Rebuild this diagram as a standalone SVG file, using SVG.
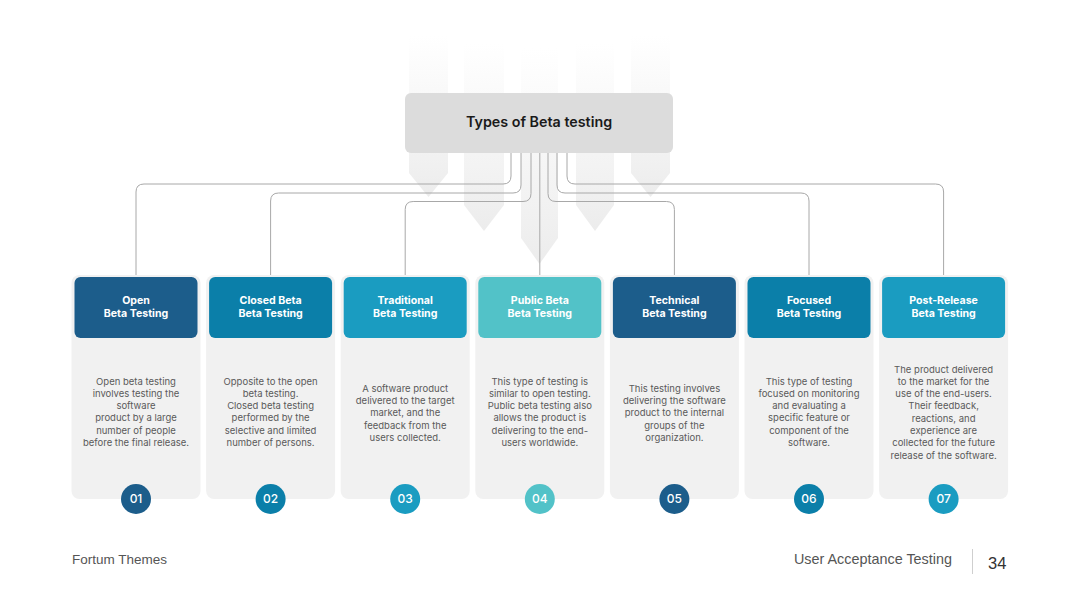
<svg xmlns="http://www.w3.org/2000/svg" width="1080" height="608" viewBox="0 0 1080 608">
<defs>
<linearGradient id="ag" x1="0" y1="0" x2="0" y2="1">
<stop offset="0" stop-color="#efefef" stop-opacity="0"/>
<stop offset="0.55" stop-color="#eeeeee" stop-opacity="0.6"/>
<stop offset="1" stop-color="#ebebeb" stop-opacity="0.95"/>
</linearGradient>
<style>
.conn{fill:none;stroke:#a8a8a8;stroke-width:1}
.body{fill:#f1f1f1}
.ht{font-family:Inter,"Noto Sans",sans-serif;font-weight:700;font-size:10.6px;fill:#ffffff;text-anchor:middle}
.bt{font-family:Inter,"Noto Sans",sans-serif;font-size:9.5px;fill:#5a5a5a;text-anchor:middle}
.num{font-family:Inter,"Noto Sans",sans-serif;font-weight:500;font-size:12px;fill:#ffffff;text-anchor:middle}
.c1{fill:#1c5d8b}.c2{fill:#0b7fa9}.c3{fill:#1a9cc1}.c4{fill:#52c2c8}
.foot{font-family:"Liberation Sans",Arial,sans-serif;font-size:13.5px;fill:#555555}
.footr{font-family:"Liberation Sans",Arial,sans-serif;font-size:14.4px;fill:#555555;text-anchor:end}
</style>
</defs>
<rect width="1080" height="608" fill="#ffffff"/>
<g id="bg-arrows" fill="url(#ag)">
<polygon points="409,36 448,36 448,173 428.5,197 409,173"/>
<polygon points="464,44 504,44 504,205 484,231 464,205"/>
<polygon points="521,48 558,48 558,238 539.5,264 521,238"/>
<polygon points="576,44 614,44 614,205 595,231 576,205"/>
<polygon points="631,36 670,36 670,173 650.5,197 631,173"/>
</g>
<g id="connectors">
<path class="conn" d="M511,153 V176 Q511,184 503,184 H144 Q136,184 136,192 V277"/>
<path class="conn" d="M521,153 V185 Q521,193 513,193 H278.6 Q270.6,193 270.6,201 V277"/>
<path class="conn" d="M531,153 V193.5 Q531,201.5 523,201.5 H413.2 Q405.2,201.5 405.2,209.5 V277"/>
<path class="conn" d="M539.8,153 V277"/>
<path class="conn" d="M548,153 V193.5 Q548,201.5 556,201.5 H666.4 Q674.4,201.5 674.4,209.5 V277"/>
<path class="conn" d="M557,153 V185 Q557,193 565,193 H801 Q809,193 809,201 V277"/>
<path class="conn" d="M567,153 V176 Q567,184 575,184 H935.6 Q943.6,184 943.6,192 V277"/>
</g>
<g id="root">
<rect x="405" y="93" width="268" height="60" rx="6" fill="#dcdcdc"/>
<text x="539" y="127" font-family="Inter,'Noto Sans',sans-serif" font-weight="600" font-size="14.3px" fill="#1a1a1a" text-anchor="middle">Types of Beta testing</text>
</g>
<g id="card1">
<rect class="body" x="71.5" y="275" width="129" height="224" rx="8"/>
<rect class="c1" x="74.5" y="277" width="123" height="61" rx="6"/>
<text class="ht" x="136" y="303.5">Open</text>
<text class="ht" x="136" y="317">Beta Testing</text>
<text class="bt" x="136" y="384.5">Open beta testing</text>
<text class="bt" x="136" y="396.8">involves testing the</text>
<text class="bt" x="136" y="409.1">software</text>
<text class="bt" x="136" y="421.4">product by a large</text>
<text class="bt" x="136" y="433.7">number of people</text>
<text class="bt" x="136" y="446">before the final release.</text>
<circle class="c1" cx="136" cy="499" r="15"/>
<text class="num" x="136" y="503.2">01</text>
</g>
<g id="card2">
<rect class="body" x="206.1" y="275" width="129" height="224" rx="8"/>
<rect class="c2" x="209.1" y="277" width="123" height="61" rx="6"/>
<text class="ht" x="270.6" y="303.5">Closed Beta</text>
<text class="ht" x="270.6" y="317">Beta Testing</text>
<text class="bt" x="270.6" y="384.5">Opposite to the open</text>
<text class="bt" x="270.6" y="396.8">beta testing.</text>
<text class="bt" x="270.6" y="409.1">Closed beta testing</text>
<text class="bt" x="270.6" y="421.4">performed by the</text>
<text class="bt" x="270.6" y="433.7">selective and limited</text>
<text class="bt" x="270.6" y="446">number of persons.</text>
<circle class="c2" cx="270.6" cy="499" r="15"/>
<text class="num" x="270.6" y="503.2">02</text>
</g>
<g id="card3">
<rect class="body" x="340.7" y="275" width="129" height="224" rx="8"/>
<rect class="c3" x="343.7" y="277" width="123" height="61" rx="6"/>
<text class="ht" x="405.2" y="303.5">Traditional</text>
<text class="ht" x="405.2" y="317">Beta Testing</text>
<text class="bt" x="405.2" y="391.8">A software product</text>
<text class="bt" x="405.2" y="404.1">delivered to the target</text>
<text class="bt" x="405.2" y="416.4">market, and the</text>
<text class="bt" x="405.2" y="428.7">feedback from the</text>
<text class="bt" x="405.2" y="441">users collected.</text>
<circle class="c3" cx="405.2" cy="499" r="15"/>
<text class="num" x="405.2" y="503.2">03</text>
</g>
<g id="card4">
<rect class="body" x="475.3" y="275" width="129" height="224" rx="8"/>
<rect class="c4" x="478.3" y="277" width="123" height="61" rx="6"/>
<text class="ht" x="539.8" y="303.5">Public Beta</text>
<text class="ht" x="539.8" y="317">Beta Testing</text>
<text class="bt" x="539.8" y="384.5">This type of testing is</text>
<text class="bt" x="539.8" y="396.8">similar to open testing.</text>
<text class="bt" x="539.8" y="409.1">Public beta testing also</text>
<text class="bt" x="539.8" y="421.4">allows the product is</text>
<text class="bt" x="539.8" y="433.7">delivering to the end-</text>
<text class="bt" x="539.8" y="446">users worldwide.</text>
<circle class="c4" cx="539.8" cy="499" r="15"/>
<text class="num" x="539.8" y="503.2">04</text>
</g>
<g id="card5">
<rect class="body" x="609.9" y="275" width="129" height="224" rx="8"/>
<rect class="c1" x="612.9" y="277" width="123" height="61" rx="6"/>
<text class="ht" x="674.4" y="303.5">Technical</text>
<text class="ht" x="674.4" y="317">Beta Testing</text>
<text class="bt" x="674.4" y="391.8">This testing involves</text>
<text class="bt" x="674.4" y="404.1">delivering the software</text>
<text class="bt" x="674.4" y="416.4">product to the internal</text>
<text class="bt" x="674.4" y="428.7">groups of the</text>
<text class="bt" x="674.4" y="441">organization.</text>
<circle class="c1" cx="674.4" cy="499" r="15"/>
<text class="num" x="674.4" y="503.2">05</text>
</g>
<g id="card6">
<rect class="body" x="744.5" y="275" width="129" height="224" rx="8"/>
<rect class="c2" x="747.5" y="277" width="123" height="61" rx="6"/>
<text class="ht" x="809" y="303.5">Focused</text>
<text class="ht" x="809" y="317">Beta Testing</text>
<text class="bt" x="809" y="384.5">This type of testing</text>
<text class="bt" x="809" y="396.8">focused on monitoring</text>
<text class="bt" x="809" y="409.1">and evaluating a</text>
<text class="bt" x="809" y="421.4">specific feature or</text>
<text class="bt" x="809" y="433.7">component of the</text>
<text class="bt" x="809" y="446">software.</text>
<circle class="c2" cx="809" cy="499" r="15"/>
<text class="num" x="809" y="503.2">06</text>
</g>
<g id="card7">
<rect class="body" x="879.1" y="275" width="129" height="224" rx="8"/>
<rect class="c3" x="882.1" y="277" width="123" height="61" rx="6"/>
<text class="ht" x="943.6" y="303.5">Post-Release</text>
<text class="ht" x="943.6" y="317">Beta Testing</text>
<text class="bt" x="943.6" y="372.5">The product delivered</text>
<text class="bt" x="943.6" y="384.8">to the market for the</text>
<text class="bt" x="943.6" y="397.1">use of the end-users.</text>
<text class="bt" x="943.6" y="409.4">Their feedback,</text>
<text class="bt" x="943.6" y="421.7">reactions, and</text>
<text class="bt" x="943.6" y="434">experience are</text>
<text class="bt" x="943.6" y="446.3">collected for the future</text>
<text class="bt" x="943.6" y="458.6">release of the software.</text>
<circle class="c3" cx="943.6" cy="499" r="15"/>
<text class="num" x="943.6" y="503.2">07</text>
</g>
<g id="footer">
<text class="foot" x="72" y="564">Fortum Themes</text>
<text class="footr" x="952" y="564">User Acceptance Testing</text>
<line x1="972.5" y1="549" x2="972.5" y2="574" stroke="#cfcfcf" stroke-width="1"/>
<text x="988" y="569" font-family="'Liberation Sans',Arial,sans-serif" font-size="16.5px" fill="#333333">34</text>
</g>
</svg>
